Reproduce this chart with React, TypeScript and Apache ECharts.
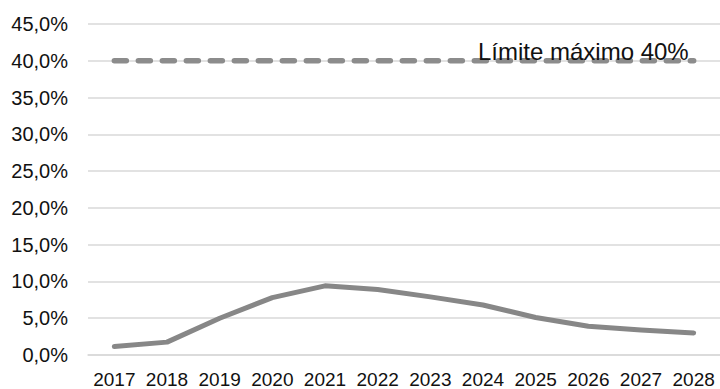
import React, { useEffect, useRef } from "react";
import * as echarts from "echarts";

// Years on the category axis
const years = ["2017", "2018", "2019", "2020", "2021", "2022", "2023", "2024", "2025", "2026", "2027", "2028"];
// Yearly ratio, in percent
const ratio = [1.15, 1.75, 5.0, 7.8, 9.4, 8.9, 7.9, 6.8, 5.1, 3.9, 3.4, 3.0];
// Legal ceiling, in percent
const limitValue = 40;
const limitLabel = "Límite máximo 40%";
const limitLabelIndex = 9;
// Value axis range
const yMin = 0;
const yMax = 45;
const yStep = 5;

const FONT = "'Liberation Sans', Arial, sans-serif";

export default function App() {
  const ref = useRef<HTMLDivElement>(null);

  useEffect(() => {
    if (!ref.current) return;
    const chart = echarts.init(ref.current, undefined, { renderer: "svg" });

    const limitData = years.map((_, i) =>
      i === limitLabelIndex
        ? {
            value: limitValue,
            label: {
              show: true,
              position: "top",
              distance: 0,
              offset: [-5, 3],
              formatter: limitLabel,
              fontSize: 24,
              fontFamily: FONT,
              color: "#111",
            },
          }
        : limitValue
    );

    chart.setOption({
      animation: false,
      grid: { left: 88, top: 24, width: 640, height: 333.3, containLabel: false },
      xAxis: {
        type: "category",
        data: years,
        boundaryGap: true,
        axisLine: { show: true, lineStyle: { color: "#d9d9d9", width: 1.5 } },
        axisTick: { show: false },
        axisLabel: {
          color: "#111",
          fontSize: 19,
          fontFamily: FONT,
          margin: 15,
          interval: 0,
        },
      },
      yAxis: {
        type: "value",
        min: yMin,
        max: yMax,
        interval: yStep,
        axisLine: { show: false },
        axisTick: { show: false },
        splitLine: { show: true, lineStyle: { color: "#d9d9d9", width: 1.5 } },
        axisLabel: {
          color: "#111",
          fontSize: 20,
          fontFamily: FONT,
          margin: 20,
          formatter: (v: number) => v.toFixed(1).replace(".", ",") + "%",
        },
      },
      series: [
        {
          type: "line",
          data: ratio,
          symbol: "none",
          smooth: false,
          lineStyle: { color: "#878787", width: 5, cap: "round", join: "round" },
          z: 3,
        },
        {
          type: "line",
          data: limitData,
          symbol: "circle",
          symbolSize: 0,
          showSymbol: true,
          lineStyle: {
            color: "#8c8c8c",
            width: 5.5,
            type: [12, 12],
            cap: "round",
          },
          z: 2,
        },
      ],
    });

    return () => chart.dispose();
  }, []);

  return (
    <div
      ref={ref}
      style={{ position: "fixed", left: 0, top: 0, width: 720, height: 389, background: "#fff" }}
    />
  );
}
